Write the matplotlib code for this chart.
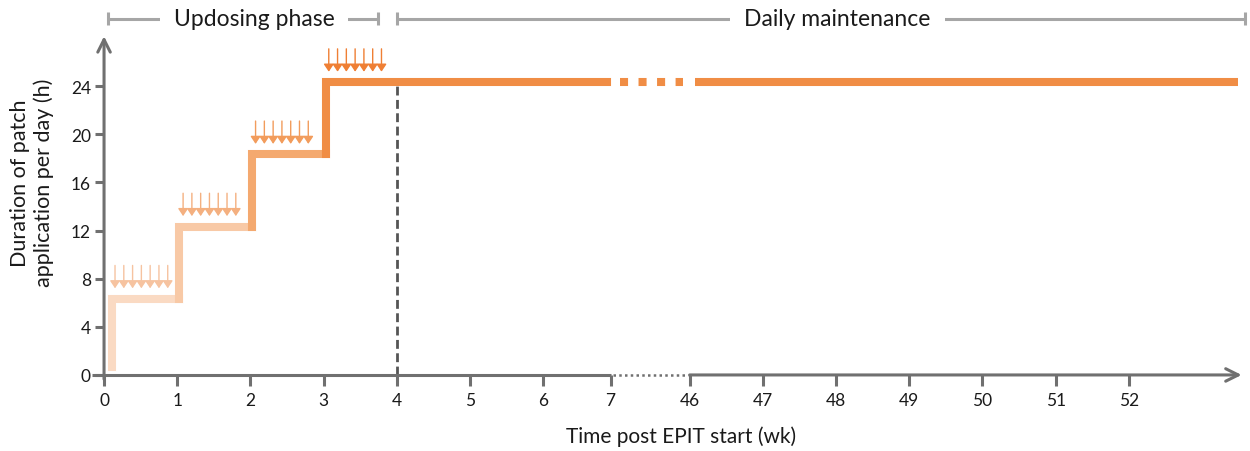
import numpy as np
import matplotlib
matplotlib.use("Agg")
import matplotlib.pyplot as plt
from matplotlib.transforms import ScaledTranslation

plt.rcParams["font.family"] = ["Lato", "DejaVu Sans"]

# ---- data -------------------------------------------------------------
tick_labels = ["0", "1", "2", "3", "4", "5", "6", "7",
               "46", "47", "48", "49", "50", "51", "52"]
tick_pos = [0, 1, 2, 3, 4, 5, 6, 6.92, 8, 9, 10, 11, 12, 13, 14]
y_ticks = [0, 4, 8, 12, 16, 20, 24]

step_start = [0.08, 1, 2, 3]          # week at which each dose level begins
hours = [6, 12, 18, 24]               # patch hours per day at each level
step_colors = ["#FADAC3", "#F8C9A6", "#F4A96F", "#F08D45"]
arrow_colors = ["#F6C3A0", "#F4B080", "#F29C5C", "#EF7F34"]
arrow_first = [0.15, 1.08, 2.07, 3.07]  # first daily application in each week
days_per_week = 7
day_step = 0.12

maintenance_start = 4
axis_break = (6.92, 8.0)
maint_end = 15.47

axis_gray = "#707070"
bracket_gray = "#A6A6A6"
text_col = "#1a1a1a"

# ---- figure -----------------------------------------------------------
fig = plt.figure(figsize=(12.5, 4.52), dpi=100)
ax = fig.add_axes([89.4 / 1250, 58 / 452, 1156.6 / 1250, 361 / 452])
ax.set_xlim(-0.2, 15.6)
ax.set_ylim(-1.5, 28.5)

for s in ax.spines.values():
    s.set_visible(False)
ax.spines["bottom"].set_position(("data", 0))
ax.spines["left"].set_position(("data", 0))

ax.set_xticks(tick_pos)
ax.set_xticklabels(tick_labels)
ax.set_yticks(y_ticks)
ax.tick_params(axis="x", direction="out", length=8, width=2.2, color=axis_gray,
               labelsize=12.5, labelcolor=text_col, pad=4)
ax.tick_params(axis="y", direction="out", length=6.5, width=2.2, color=axis_gray,
               labelsize=12.5, labelcolor=text_col, pad=3)

# axes drawn by hand: solid, dotted across the break, arrow heads at the ends
ax.plot([-0.17, axis_break[0]], [0, 0], color=axis_gray, lw=2.2,
        solid_capstyle="butt", clip_on=False, zorder=3)
ax.plot([axis_break[0] + 0.03, axis_break[1] - 0.02], [0, 0], color=axis_gray,
        lw=1.8, ls=(0, (1, 1.3)), clip_on=False, zorder=3)
ax.annotate("", xy=(15.54, 0), xytext=(axis_break[1], 0),
            arrowprops=dict(arrowstyle="->,head_length=0.9,head_width=0.45",
                            color=axis_gray, lw=2.2, shrinkA=0, shrinkB=0),
            annotation_clip=False, zorder=3)
ax.annotate("", xy=(0, 28.15), xytext=(0, -0.35),
            arrowprops=dict(arrowstyle="->,head_length=0.9,head_width=0.45",
                            color=axis_gray, lw=2.2, shrinkA=0, shrinkB=0),
            annotation_clip=False, zorder=3)

# step line sits just above/right of its nominal value
shift = ax.transData + ScaledTranslation(0.02, 0.04, fig.dpi_scale_trans)

prev = [0.3] + hours[:-1]
ends = step_start[1:] + [axis_break[0] - 0.07]
for x0, y_prev, y, x1, c in zip(step_start, prev, hours, ends, step_colors):
    ax.plot([x0, x0, x1], [y_prev, y, y], color=c, lw=5.8,
            solid_capstyle="projecting", solid_joinstyle="miter",
            transform=shift, zorder=4)

# maintenance continues after the axis break
ax.plot([axis_break[0] + 0.1, axis_break[1] - 0.12], [hours[-1]] * 2,
        color=step_colors[-1], lw=5.8, dash_capstyle="butt",
        ls=(0, (1.0, 1.3)), transform=shift, zorder=4)
ax.plot([axis_break[1] + 0.04, maint_end], [hours[-1]] * 2,
        color=step_colors[-1], lw=5.8, solid_capstyle="butt",
        transform=shift, zorder=4)

# start of daily maintenance
ax.plot([maintenance_start] * 2, [0, hours[-1]], color="#555555", lw=2.0,
        ls=(0, (3.2, 1.6)), zorder=2)

# daily patch applications
days = np.arange(days_per_week)
for xs, y, c in zip(arrow_first, hours, arrow_colors):
    for d in days:
        x = xs + d * day_step
        ax.annotate("", xy=(x, y + 1.2), xytext=(x, y + 3.1),
                    arrowprops=dict(arrowstyle="-|>,head_length=0.45,head_width=0.3",
                                    color=c, lw=1.0, shrinkA=0, shrinkB=0),
                    annotation_clip=False, zorder=5)

# phase brackets across the top
def bracket(x0, x1, label, xtext, y=29.6):
    ax.plot([x0, x1], [y, y], color=bracket_gray, lw=2.2, clip_on=False,
            solid_capstyle="butt")
    for xe in (x0, x1):
        ax.plot([xe, xe], [y - 0.55, y + 0.55], color=bracket_gray, lw=2.2,
                clip_on=False, solid_capstyle="butt")
    ax.text(xtext, y, label, ha="center", va="center", fontsize=16.5,
            color=text_col, clip_on=False,
            bbox=dict(facecolor="white", edgecolor="none", pad=10))

bracket(0.055, 3.74, "Updosing phase", 2.05)
bracket(4.0, 15.59, "Daily maintenance", 10.02)

fig.text(681 / 1250, 1 - 437 / 452, "Time post EPIT start (wk)", ha="center",
         va="center", fontsize=15, color=text_col)
fig.text(32 / 1250, 1 - 183 / 452, "Duration of patch\napplication per day (h)",
         ha="center", va="center", rotation=90, fontsize=15.5, color=text_col,
         multialignment="center", linespacing=1.25)

fig.savefig("out.png", dpi=100)
